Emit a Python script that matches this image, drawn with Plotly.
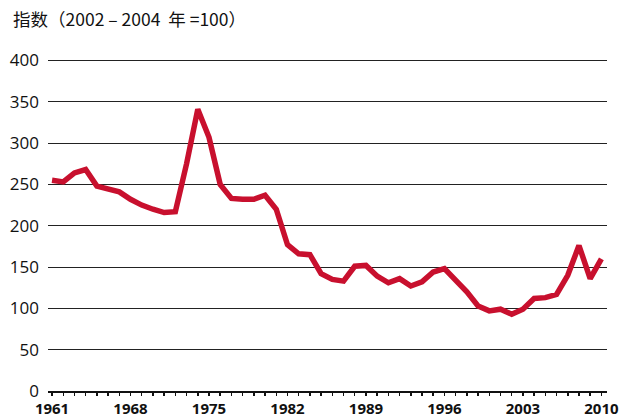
import plotly.graph_objects as go

years = list(range(1961, 2011))
index_values = [255, 253, 264, 268, 248, 245, 241, 232, 225, 220,
                216, 217, 275, 341, 307, 250, 233, 232, 232, 237,
                220, 177, 166, 165, 142, 135, 133, 151, 152, 139,
                131, 136, 127, 132, 144, 148, 135, 120, 103, 97,
                99, 93, 99, 112, 113, 117, 140, 176, 136, 160]
label_years = [1961, 1968, 1975, 1982, 1989, 1996, 2003, 2010]
y_ticks = [0, 50, 100, 150, 200, 250, 300, 350, 400]
title_text = "指数（2002 – 2004\u00a0\u00a0年 =100）"

fig = go.Figure()
fig.add_trace(go.Scatter(
    x=years, y=index_values, mode="lines",
    line=dict(color="#C8102E", width=5.5, shape="linear"),
    hoverinfo="skip", showlegend=False,
))

fig.update_layout(
    width=620, height=416,
    margin=dict(l=48, r=13, t=58, b=25),
    paper_bgcolor="white", plot_bgcolor="white",
    font=dict(family="Open Sans, Noto Sans CJK SC", color="#111"),
    annotations=[dict(
        text=title_text, xref="paper", yref="paper",
        x=-0.066, y=1.12, xanchor="left", yanchor="middle",
        showarrow=False,
        font=dict(family="Noto Sans CJK SC", size=17.5, color="#111"),
    )],
)

fig.update_xaxes(
    range=[1960.64, 2010.5],
    automargin=False,
    tickmode="array",
    tickvals=years,
    ticktext=[str(y) if y in label_years else "" for y in years],
    ticks="outside", ticklen=3, tickwidth=1.5, tickcolor="#111",
    showline=True, linecolor="#111", linewidth=1.5,
    showgrid=False, zeroline=False,
    tickfont=dict(family="Open Sans", size=15, color="#111", weight="bold"),
)
fig.update_yaxes(
    range=[0, 403],
    automargin=False,
    tickmode="array", tickvals=y_ticks,
    showgrid=True, gridcolor="#222", gridwidth=1,
    zeroline=False, showline=False,
    ticks="", ticklabelstandoff=8,
    tickfont=dict(family="Open Sans", size=17, color="#111"),
)

fig.write_html(
    "out.html",
    config={"displayModeBar": False, "staticPlot": True},
    post_script="document.body.style.margin='0';document.body.style.overflow='hidden';",
)
